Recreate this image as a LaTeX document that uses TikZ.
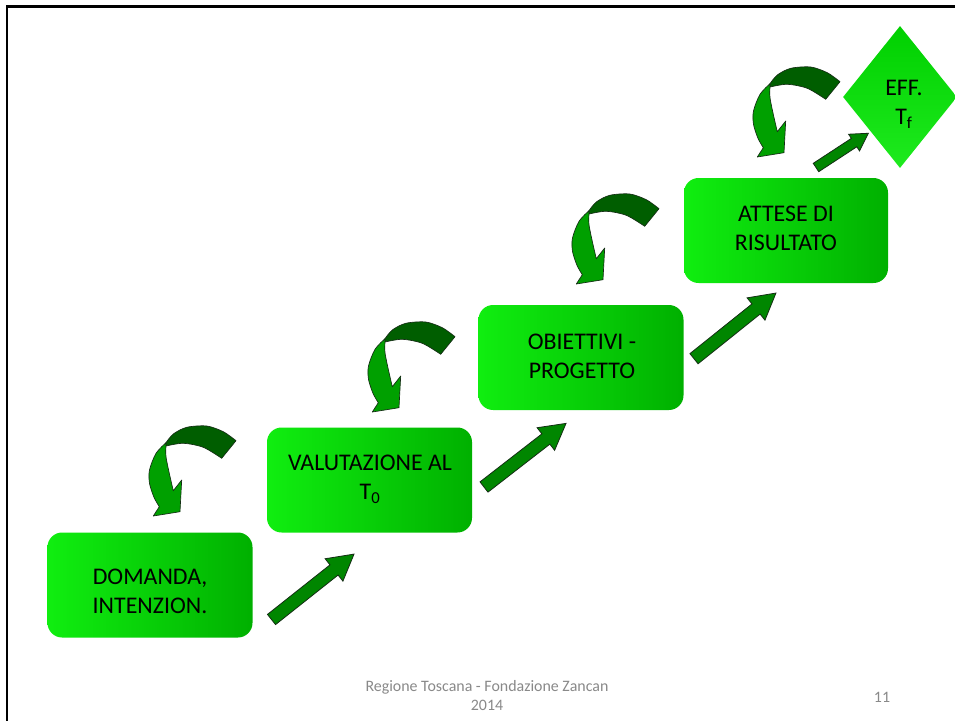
\documentclass[tikz,border=0pt]{standalone}
\usepackage{fontspec}
\setmainfont{Carlito}
\usetikzlibrary{shapes.geometric}

\definecolor{boxL}{RGB}{16,238,16}
\definecolor{boxR}{RGB}{0,176,0}
\definecolor{arrG}{RGB}{0,134,0}
\definecolor{darkG}{RGB}{0,94,0}
\definecolor{lightG}{RGB}{0,160,0}
\definecolor{diaT}{RGB}{0,208,0}
\definecolor{diaB}{RGB}{30,234,30}
\definecolor{footG}{RGB}{137,137,137}
\definecolor{edgeG}{RGB}{20,45,20}

\tikzset{
  stagebox/.style={rounded corners=11pt, minimum width=205*0.75392pt,
    minimum height=105*0.75392pt, inner sep=0pt, left color=boxL, right color=boxR},
  stagetext/.style={align=center, font=\fontsize{18}{22}\selectfont, text=black, inner sep=0pt},
  foottext/.style={align=center, font=\fontsize{12}{14.5}\selectfont, text=footG, inner sep=0pt},
  curvedark/.style={fill=darkG, draw=edgeG, line width=0.5pt, line join=round},
  curvelight/.style={fill=lightG, draw=edgeG, line width=0.5pt, line join=round},
  pics/curvarrow/.style={code={
    \filldraw[curvedark] (70,-3.3) -- plot[smooth] coordinates {(70,-3.3) (57.3,-12.3) (40.7,-18) (20.7,-16.7) (7.3,-10) (0,-1.3)} -- (0,2)
      -- plot[smooth] coordinates {(0,2) (17.3,-0.7) (37.3,3.3) (55.7,14.3)} -- cycle;
    \filldraw[curvelight] (0,-1.3) -- plot[smooth] coordinates {(0,-1.3) (-10,9.3) (-16.5,26) (-16.5,39.3) (-12,53.3) (-6.7,62.7)}
      -- (-12.7,72) -- (14,67.7) -- (15.7,36) -- (7.3,46.7)
      -- plot[smooth] coordinates {(7.3,46.7) (3.3,29.3) (0,12.7) (0,2)} -- cycle;
  }},
  pics/blockarrow/.style args={#1/#2/#3/#4}{code={
    \filldraw[fill=arrG, draw=edgeG, line width=0.6pt, line join=miter]
      (0,-#2) -- ({#1-#4},-#2) -- ({#1-#4},-#3) -- (#1,0) -- ({#1-#4},#3) -- ({#1-#4},#2) -- (0,#2) -- cycle;
  }}
}

\begin{document}
\begin{tikzpicture}[x=0.75392pt, y=-0.75392pt]
\useasboundingbox (0,0) rectangle (955,720);
\fill[white] (0,0) rectangle (955,720);

% slide frame
\draw[line width=1.8pt] (6.8,730) -- (6.8,6.5) -- (965,6.5);

% stage boxes
\node[stagebox] (b1) at (150,585) {};
\node[stagebox] (b2) at (369.5,480) {};
\node[stagebox] (b3) at (581,357.5) {};
\node[stagebox, minimum width=204*0.75392pt] (b4) at (786,230.5) {};
\node[diamond, inner sep=0pt, minimum width=114*0.75392pt, minimum height=142*0.75392pt,
      top color=diaT, bottom color=diaB] (d) at (900,97) {};

\node[stagetext] (t1) at (150,591) {DOMANDA,\\INTENZION.};
\node[stagetext] (t2) at (370,479) {VALUTAZIONE AL\\T\textsubscript{0}};
\node[stagetext] (t3) at (582,356) {OBIETTIVI -\\PROGETTO};
\node[stagetext] (t4) at (786,228.5) {ATTESE DI\\RISULTATO};
\node[stagetext] (t5) at (904,104) {EFF.\\T\textsubscript{f}};

% straight block arrows
\coordinate (s1) at (271.5,619.5);
\coordinate (s2) at (484,487);
\coordinate (s3) at (694,358.7);
\coordinate (s4) at (816,167.5);
\pic[rotate=38.4] at (s1) {blockarrow=105.3/6.5/14.3/25.5};
\pic[rotate=37.8] at (s2) {blockarrow=103.8/6.5/14.3/25.5};
\pic[rotate=38.7] at (s3) {blockarrow=105/6.5/14.3/25.5};
\pic[rotate=33.2] at (s4) {blockarrow=62.5/5/10/17};

% curved arrows
\coordinate (c1) at (166,444);
\coordinate (c2) at (385,340);
\coordinate (c3) at (589,212);
\coordinate (c4) at (770,85);
\pic at (c1) {curvarrow};
\pic at (c2) {curvarrow};
\pic at (c3) {curvarrow};
\pic at (c4) {curvarrow};

% footer
\node[foottext] (f1) at (487,695.5) {Regione Toscana - Fondazione Zancan\\2014};
\node[foottext] (f2) at (882,697) {11};
\end{tikzpicture}
\end{document}
